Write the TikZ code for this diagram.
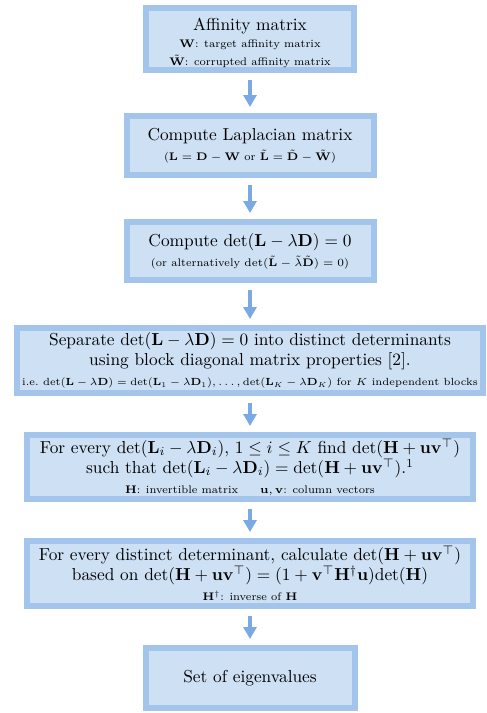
\RequirePackage{fix-cm}
\documentclass[tikz,border=0pt]{standalone}
\usetikzlibrary{arrows.meta}
\definecolor{boxfill}{RGB}{205,224,244}
\definecolor{boxline}{RGB}{163,197,236}
\definecolor{flowblue}{RGB}{122,169,227}
\newcommand{\bm}[1]{\mathbf{#1}}
\newcommand{\sublabel}{\fontsize{6.6}{8}\selectfont}
\newcommand{\narrowlabel}{\fontsize{6.2}{8}\selectfont}
\tikzset{
  stage/.style={draw=boxline, fill=boxfill, line width=3.6pt, inner sep=0pt,
    align=center, font=\fontsize{10.4}{12}\selectfont},
  stagetext/.style={inner sep=0pt, align=center, font=\fontsize{10.4}{12}\selectfont},
  flow/.style={draw=flowblue, line width=2.4pt,
    -{Triangle[width=7.8pt,length=7.2pt]}, shorten <=4.2pt, shorten >=3.6pt}
}
\begin{document}
\begin{tikzpicture}[x=0.6pt,y=-0.6pt]
\useasboundingbox (0,0) rectangle (487,713);

% first stage: the box, then its three lines set a little lower
\node[stage, minimum width=124.8pt, minimum height=37.2pt] (b1) at (250,39) {};
\node[stagetext] (b1t) at (250,42.5)
  {Affinity matrix\\[-1.5pt]
   {\sublabel $\bm{W}$: target affinity matrix}\\[-1.5pt]
   {\sublabel $\tilde{\bm{W}}$: corrupted affinity matrix}};

\node[stage, minimum width=148.2pt, minimum height=35.4pt] (b2) at (250,145.5)
  {Compute Laplacian matrix\\
   {\sublabel ($\bm{L}=\bm{D}-\bm{W}$ or $\tilde{\bm{L}}=\tilde{\bm{D}}-\tilde{\bm{W}}$)}};

\node[stage, minimum width=148.2pt, minimum height=34.8pt] (b3) at (250,251)
  {Compute $\det(\bm{L}-\lambda\bm{D})=0$\\
   {\sublabel (or alternatively $\det(\tilde{\bm{L}}-\tilde{\lambda}\tilde{\bm{D}})=0$)}};

\node[stage, minimum width=279.6pt, minimum height=39pt] (b4) at (250,360.5)
  {Separate $\det(\bm{L}-\lambda\bm{D})=0$ into distinct determinants\\
   using block diagonal matrix properties [2].\\
   {\narrowlabel i.e.\ $\det(\bm{L}-\lambda\bm{D})=\det(\bm{L}_1-\lambda\bm{D}_1),\ldots,\det(\bm{L}_K-\lambda\bm{D}_K)$ for $K$ independent blocks}};

\node[stage, minimum width=267.6pt, minimum height=38.4pt] (b5) at (250,467)
  {For every $\det(\bm{L}_i-\lambda\bm{D}_i)$, $1\le i\le K$ find $\det(\bm{H}+\bm{u}\bm{v}^\top)$\\
   such that $\det(\bm{L}_i-\lambda\bm{D}_i)=\det(\bm{H}+\bm{u}\bm{v}^\top)$.$^1$\\
   {\sublabel $\bm{H}$: invertible matrix\qquad $\bm{u},\bm{v}$: column vectors}};

\node[stage, minimum width=267.6pt, minimum height=39pt] (b6) at (250,573.5)
  {For every distinct determinant, calculate $\det(\bm{H}+\bm{u}\bm{v}^\top)$\\
   based on $\det(\bm{H}+\bm{u}\bm{v}^\top)=(1+\bm{v}^\top\bm{H}^\dagger\bm{u})\mathrm{det}(\bm{H})$\\
   {\sublabel $\bm{H}^\dagger$: inverse of $\bm{H}$}};

\node[stage, minimum width=125.4pt, minimum height=36pt] (b7) at (250,678)
  {Set of eigenvalues};

\foreach \a/\b in {b1/b2,b2/b3,b3/b4,b4/b5,b5/b6,b6/b7}
  \draw[flow] (\a) -- (\b);
\end{tikzpicture}
\end{document}
